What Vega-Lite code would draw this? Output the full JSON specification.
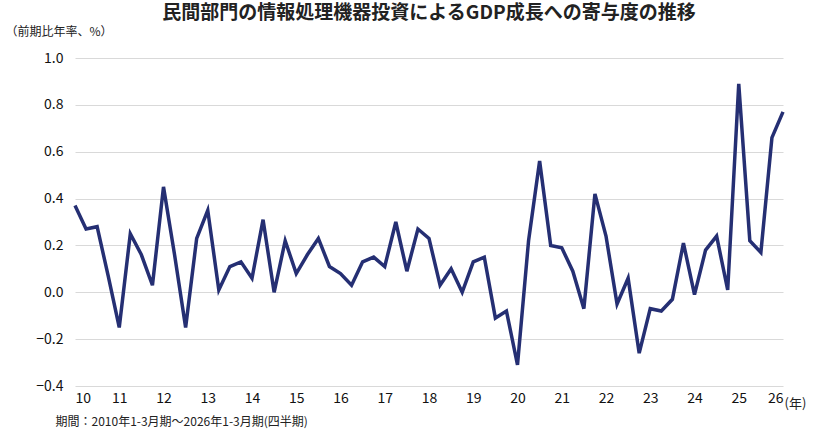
{
"$schema":"https://vega.github.io/schema/vega-lite/v6.json",
"width":708,"height":328,
"padding":{"left":5,"top":4,"right":5,"bottom":2},
"config":{"font":"Noto Sans CJK JP","view":{"stroke":null},"background":"white"},
"title":{"text":"民間部門の情報処理機器投資によるGDP成長への寄与度の推移","fontSize":19,"fontWeight":"bold","color":"#222","anchor":"middle","offset":2},
"data":{"values":[
{"t":10,"v":0.37},{"t":10.25,"v":0.27},{"t":10.5,"v":0.28},{"t":10.75,"v":0.07},
{"t":11,"v":-0.15},{"t":11.25,"v":0.25},{"t":11.5,"v":0.16},{"t":11.75,"v":0.03},
{"t":12,"v":0.45},{"t":12.25,"v":0.16},{"t":12.5,"v":-0.15},{"t":12.75,"v":0.23},
{"t":13,"v":0.35},{"t":13.25,"v":0.01},{"t":13.5,"v":0.11},{"t":13.75,"v":0.13},
{"t":14,"v":0.06},{"t":14.25,"v":0.31},{"t":14.5,"v":0.0},{"t":14.75,"v":0.22},
{"t":15,"v":0.08},{"t":15.25,"v":0.16},{"t":15.5,"v":0.23},{"t":15.75,"v":0.11},
{"t":16,"v":0.08},{"t":16.25,"v":0.03},{"t":16.5,"v":0.13},{"t":16.75,"v":0.15},
{"t":17,"v":0.11},{"t":17.25,"v":0.30},{"t":17.5,"v":0.09},{"t":17.75,"v":0.27},
{"t":18,"v":0.23},{"t":18.25,"v":0.03},{"t":18.5,"v":0.10},{"t":18.75,"v":0.0},
{"t":19,"v":0.13},{"t":19.25,"v":0.15},{"t":19.5,"v":-0.11},{"t":19.75,"v":-0.08},
{"t":20,"v":-0.31},{"t":20.25,"v":0.22},{"t":20.5,"v":0.56},{"t":20.75,"v":0.20},
{"t":21,"v":0.19},{"t":21.25,"v":0.09},{"t":21.5,"v":-0.07},{"t":21.75,"v":0.42},
{"t":22,"v":0.24},{"t":22.25,"v":-0.05},{"t":22.5,"v":0.06},{"t":22.75,"v":-0.26},
{"t":23,"v":-0.07},{"t":23.25,"v":-0.08},{"t":23.5,"v":-0.03},{"t":23.75,"v":0.21},
{"t":24,"v":-0.01},{"t":24.25,"v":0.18},{"t":24.5,"v":0.24},{"t":24.75,"v":0.01},
{"t":25,"v":0.89},{"t":25.25,"v":0.22},{"t":25.5,"v":0.17},{"t":25.75,"v":0.66},
{"t":26,"v":0.77}
]},
"resolve":{"axis":{"x":"independent"}},
"layer":[
{"mark":{"type":"line","opacity":0},
 "encoding":{
  "x":{"field":"t","type":"quantitative","scale":{"domain":[10,26],"nice":false,"zero":false},
   "axis":{"orient":"top","labels":false,"ticks":false,"domain":false,"grid":false,"title":"(年)","titleFontSize":13,"titleFontWeight":"normal","titleColor":"#222","titleAnchor":"end","titleAlign":"center","titleBaseline":"top","titleX":720,"titleY":339}},
  "y":{"field":"v","type":"quantitative","scale":{"domain":[-0.4,1.0],"nice":false}}}},
{"mark":{"type":"line","color":"#252f73","strokeWidth":3.5},
 "encoding":{
  "x":{"field":"t","type":"quantitative","scale":{"domain":[10,26],"nice":false,"zero":false},
   "axis":{"values":[10,11,12,13,14,15,16,17,18,19,20,21,22,23,24,25,26],"grid":false,"domain":false,"ticks":false,"labelFontSize":14,"labelColor":"#111","labelPadding":5,
   "title":"期間：2010年1-3月期～2026年1-3月期(四半期)","titleFontSize":12,"titleFontWeight":"normal","titleColor":"#222","titleAnchor":"start","titleX":-20,"titleY":30}},
  "y":{"field":"v","type":"quantitative","scale":{"domain":[-0.4,1.0],"nice":false},
   "axis":{"values":[-0.4,-0.2,0,0.2,0.4,0.6,0.8,1.0],"format":".1f","grid":true,"gridColor":"#d9d9d9","domain":false,"ticks":false,"labelFontSize":14,"labelColor":"#111","labelPadding":12,
   "title":"（前期比年率、%）","titleAngle":0,"titleFontSize":12,"titleFontWeight":"normal","titleColor":"#222","titleAnchor":"start","titleAlign":"left","titleX":-70,"titleY":-20}}
 }}
]
}
